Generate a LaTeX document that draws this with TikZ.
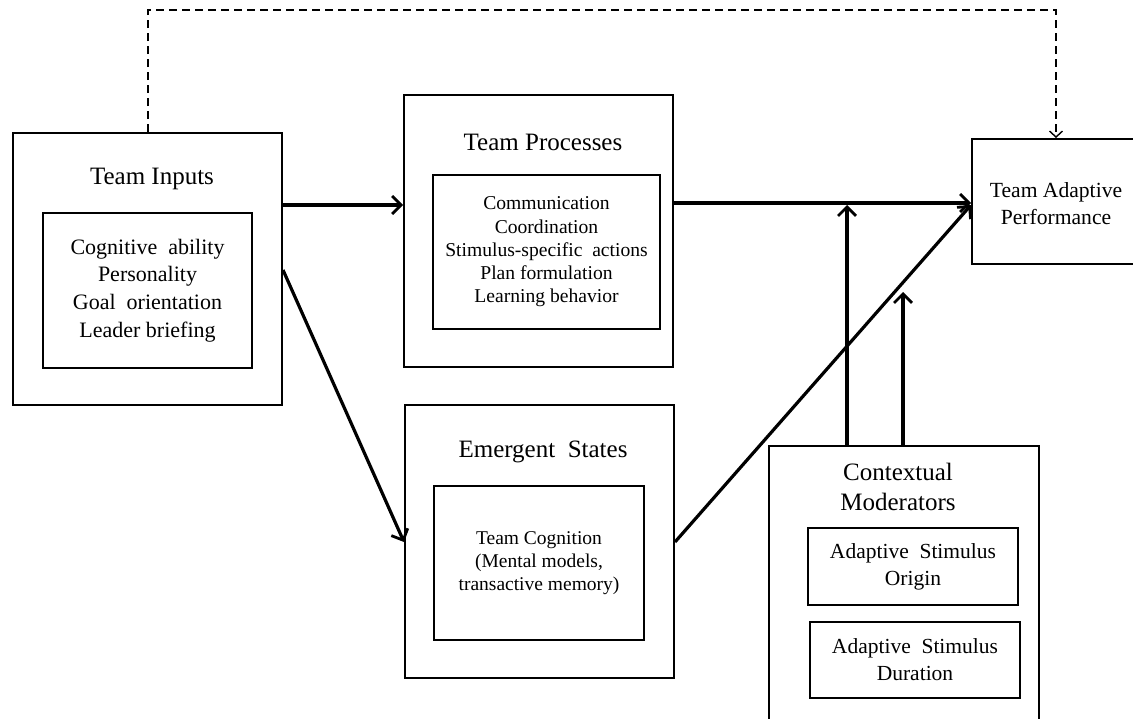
\documentclass[tikz,border=0pt]{standalone}
\usepackage{fontspec}
\setmainfont{Liberation Serif}
\usetikzlibrary{arrows.meta}
\begin{document}
\begin{tikzpicture}[x=1pt,y=-1pt,
  outerbox/.style={draw, rectangle, line width=2pt, inner sep=0pt},
  innerbox/.style={draw, rectangle, line width=2pt, inner sep=0pt, align=center},
  title/.style={inner sep=0pt, align=center, font=\fontsize{25}{30}\selectfont},
  flow/.style={line width=3.2pt, -{Straight Barb[length=9pt,width=18pt,line width=2.8pt]}},
  link/.style={line width=1.4pt, dash pattern=on 8pt off 5pt,
    -{Straight Barb[length=6pt,width=13pt,line width=1.4pt]}}]
\useasboundingbox (0,0) rectangle (1133,718);
\clip (0,0) rectangle (1133,718);

% Team inputs
\node[outerbox, minimum width=269pt, minimum height=272pt] (ti) at (147.5,269) {};
\node[title] (tit) at (152,179) {Team Inputs};
\node[innerbox, minimum width=209pt, minimum height=155pt,
  font=\fontsize{22}{27.7}\selectfont] (tii) at (147.5,290.5)
  {Cognitive\ \ ability\\Personality\\Goal\ \ orientation\\Leader briefing};

% Team processes
\node[outerbox, minimum width=269pt, minimum height=272pt] (tp) at (538.5,231) {};
\node[title] (tpt) at (543,142) {Team Processes};
\node[innerbox, minimum width=227pt, minimum height=154pt,
  font=\fontsize{19.6}{23.3}\selectfont] (tpi) at (546.5,252)
  {Communication\\Coordination\\Stimulus-specific\ \ actions\\Plan formulation\\Learning behavior};

% Emergent states
\node[outerbox, minimum width=269pt, minimum height=273pt] (es) at (539.5,541.5) {};
\node[title] (est) at (543,452) {Emergent\ \ States};
\node[innerbox, minimum width=210pt, minimum height=154pt,
  font=\fontsize{19.5}{23}\selectfont] (esi) at (539,563)
  {Team Cognition\\(Mental models,\\transactive memory)};

% Team adaptive performance
\node[outerbox, minimum width=168pt, minimum height=125pt] (tap) at (1056,201.5) {};
\node[inner sep=0pt, align=center, font=\fontsize{21.6}{27}\selectfont] (tapt) at (1056,203.5)
  {Team Adaptive\\Performance};

% Contextual moderators
\node[outerbox, minimum width=270pt, minimum height=290pt] (cm) at (904,591) {};
\node[title] (cmt) at (898,487) {Contextual\\Moderators};
\node[innerbox, minimum width=210pt, minimum height=77pt,
  font=\fontsize{21.5}{27}\selectfont] (cm1) at (913,566.5)
  {Adaptive\ \ Stimulus\\Origin};
\node[innerbox, minimum width=210pt, minimum height=76pt,
  font=\fontsize{21.5}{27}\selectfont] (cm2) at (915,660)
  {Adaptive\ \ Stimulus\\Duration};

% Connectors
\coordinate (m1) at (847,205);
\coordinate (m2) at (903,292);
\coordinate (top) at (1056,10);

\draw[flow] (ti.east |- 0,205) -- (tp.west |- 0,205);
\draw[flow] (ti.east |- 0,270) -- (es.west |- 0,542);
\draw[flow] (tp.east |- 0,203) -- (tap.west |- 0,203);
\draw[flow] (es.east |- 0,542) -- (tap.west |- 0,205);
\draw[flow] (cm.north -| m1) -- (m1);
\draw[flow] (cm.north -| m2) -- (m2);
\draw[link] (ti.north -| 148,0) |- (top) -- (tap.north -| top);
\end{tikzpicture}
\end{document}
